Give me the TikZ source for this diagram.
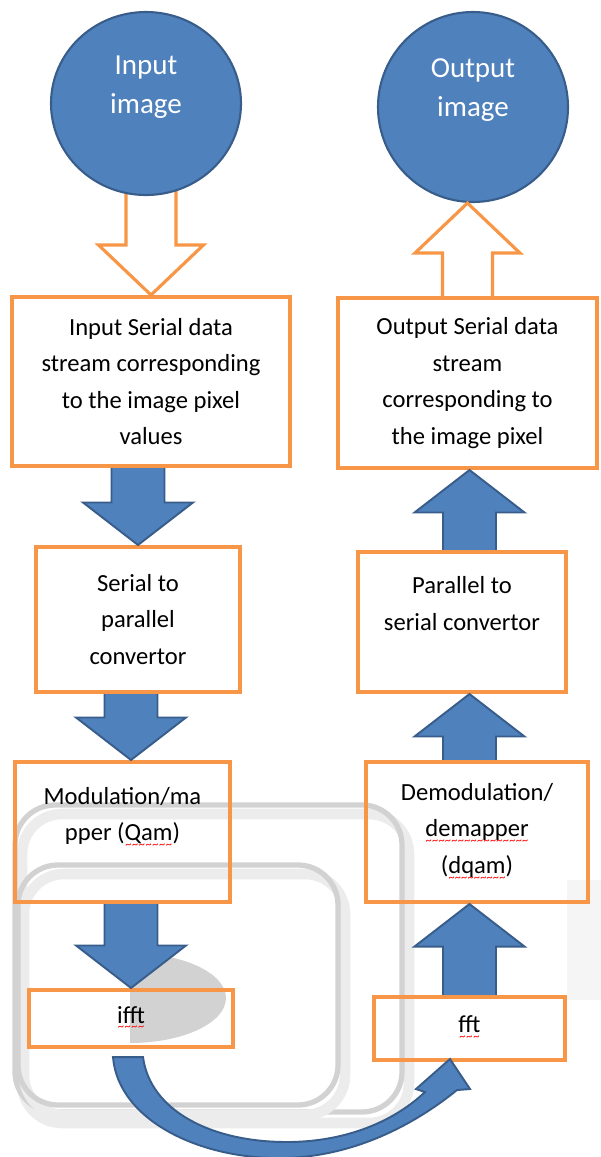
\documentclass[tikz,border=0pt]{standalone}
\usepackage{fontspec}
\setmainfont{Carlito}
\usetikzlibrary{shapes.geometric,calc,backgrounds}

\definecolor{boxorange}{HTML}{F79646}
\definecolor{fillblue}{HTML}{4F81BD}
\definecolor{edgeblue}{HTML}{385D8A}

% red wavy line under a word
\newsavebox{\spbox}
\newcommand{\spellerr}[1]{\sbox{\spbox}{#1}\rlap{\raisebox{-4.5pt}{\textcolor{red}{\fontsize{7}{7}\selectfont\xleaders\hbox{\char"7E}\hskip\wd\spbox}}}\usebox{\spbox}}

\newcommand{\boxfont}{\fontsize{14}{20.8}\selectfont}
\newcommand{\circfont}{\fontsize{16.5}{22.1}\selectfont}

% block arrow: style, start, tip, half shaft, half head, head length
\newcommand{\fatarrow}[6]{%
  \coordinate (fa-s) at #2;
  \coordinate (fa-t) at #3;
  \coordinate (fa-b) at ($(fa-t)!#6!(fa-s)$);
  \draw[#1] ($(fa-s)!#4!90:(fa-t)$) -- ($(fa-b)!#4!90:(fa-t)$) -- ($(fa-b)!#5!90:(fa-t)$) -- (fa-t)
    -- ($(fa-b)!#5!-90:(fa-t)$) -- ($(fa-b)!#4!-90:(fa-t)$) -- ($(fa-s)!#4!-90:(fa-t)$);
}

\tikzset{
  procbox/.style={draw=boxorange, line width=2.3pt, align=center, font=\boxfont, inner sep=2pt},
  imgcircle/.style={ellipse, draw=edgeblue, line width=1.2pt, fill=fillblue, inner sep=0pt},
  imgtext/.style={text=white, align=center, font=\circfont},
  bluearrow/.style={fill=fillblue, draw=edgeblue, line width=1.1pt},
  hollowarrow/.style={fill=white, draw=boxorange, line width=1.8pt},
  ghostline/.style={rounded corners=0.8cm, draw=gray!35, line width=3pt},
  ghostshade/.style={rounded corners=0.8cm, draw=gray!15, line width=6pt},
}

\begin{document}
\begin{tikzpicture}
\useasboundingbox (0,0) rectangle (12.02,-23.14);
% leftover frames behind the boxes
\draw[ghostshade] (0.44,-16.28) rectangle (8.18,-22.46);
\draw[ghostline] (0.30,-16.10) rectangle (8.04,-22.24);
\draw[ghostshade] (0.48,-17.48) rectangle (6.90,-22.30);
\draw[ghostline] (0.36,-17.30) rectangle (6.76,-22.10);
\fill[gray!35] (2.60,-19.06) arc[start angle=90, end angle=-90, x radius=1.92cm, y radius=0.90cm] -- cycle;
\fill[gray!8] (11.34,-17.60) rectangle (12.02,-20.00);
% images
\node[imgcircle, minimum width=3.8cm, minimum height=3.66cm,
  label={[imgtext, yshift=0.32cm]center:Input\\image}] (incirc) at (2.92,-2.07) {};
\node[imgcircle, minimum width=3.8cm, minimum height=3.8cm,
  label={[imgtext, yshift=0.34cm]center:Output\\image}] (outcirc) at (9.46,-2.14) {};
% transmitter side
\node[procbox, minimum width=5.56cm, minimum height=3.38cm] (inbox) at (3.02,-7.63)
  {Input Serial data\\stream corresponding\\to the image pixel\\values};
\node[procbox, minimum width=4.08cm, minimum height=2.90cm] (ser2par) at (2.76,-12.39)
  {Serial to\\parallel\\convertor};
\node[procbox, minimum width=4.30cm, minimum height=2.80cm] (mod) at (2.45,-16.64)
  {Modulation/ma\\pper (\spellerr{Qam})\\~};
\node[procbox, minimum width=4.08cm, minimum height=1.14cm] (ifft) at (2.62,-20.37)
  {\spellerr{ifft}};
% receiver side
\node[procbox, minimum width=5.18cm, minimum height=3.40cm] (outbox) at (9.35,-7.66)
  {Output Serial data\\stream\\corresponding to\\the image pixel};
\node[procbox, minimum width=4.16cm, minimum height=2.80cm] (par2ser) at (9.24,-12.44)
  {Parallel to\\serial convertor\\~};
\node[procbox, minimum width=4.44cm, minimum height=2.80cm] (demod) at (9.54,-16.64)
  {Demodulation/\\\spellerr{demapper}\\(\spellerr{dqam})};
\node[procbox, minimum width=3.82cm, minimum height=1.26cm] (fft) at (9.39,-20.57)
  {\spellerr{fft}};
% arrows
\begin{pgfonlayer}{background}
\fatarrow{hollowarrow}{($(inbox.north |- incirc.south)+(0,0.2)$)}{(inbox.north)}{0.5cm}{1.05cm}{1.0cm}
\end{pgfonlayer}
\fatarrow{hollowarrow}{(outbox.north)}{(outbox.north |- outcirc.south)}{0.5cm}{1.05cm}{1.0cm}
\fatarrow{bluearrow}{(inbox.south -| ser2par.north)}{(ser2par.north)}{0.53cm}{1.1cm}{0.85cm}
\fatarrow{bluearrow}{(ser2par.south -| ifft.north)}{(mod.north -| ifft.north)}{0.53cm}{1.1cm}{0.85cm}
\fatarrow{bluearrow}{(mod.south -| ifft.north)}{(ifft.north)}{0.53cm}{1.1cm}{0.85cm}
\fatarrow{bluearrow}{(fft.north)}{(demod.south -| fft.north)}{0.53cm}{1.1cm}{0.85cm}
\fatarrow{bluearrow}{(demod.north -| fft.north)}{(par2ser.south -| fft.north)}{0.53cm}{1.1cm}{0.85cm}
\fatarrow{bluearrow}{(par2ser.north -| fft.north)}{(outbox.south -| fft.north)}{0.53cm}{1.1cm}{0.85cm}
% ifft to fft
\draw[bluearrow] ([xshift=-0.36cm,yshift=-0.16cm]ifft.south)
  .. controls (2.36,-22.40) and (4.00,-23.20) .. (5.70,-23.16)
  .. controls (7.20,-23.12) and (8.40,-22.40) .. ([xshift=-0.25cm,yshift=-0.56cm]fft.south)
  -- ([xshift=0.01cm,yshift=-0.54cm]fft.south) -- ([xshift=-0.39cm,yshift=0.06cm]fft.south)
  -- ([xshift=-1.07cm,yshift=-0.54cm]fft.south) -- ([xshift=-0.89cm,yshift=-0.60cm]fft.south)
  .. controls (7.80,-22.50) and (6.80,-22.84) .. (5.74,-22.84)
  .. controls (4.20,-22.84) and (3.00,-22.20) .. ([xshift=0.24cm,yshift=-0.16cm]ifft.south) -- cycle;
\end{tikzpicture}
\end{document}
